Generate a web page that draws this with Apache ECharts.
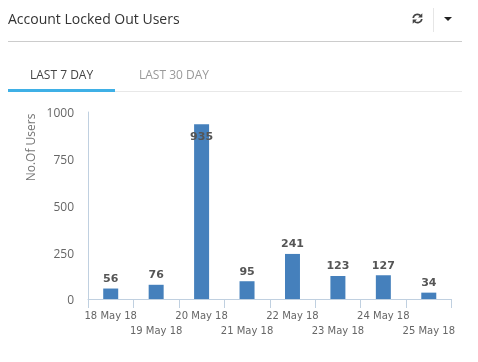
<!DOCTYPE html>
<html>
<head>
<meta charset="utf-8">
<script src="https://cdn.jsdelivr.net/npm/echarts@6/dist/echarts.min.js"></script>
<style>
html,body{margin:0;padding:0;background:#fff;width:478px;height:362px;overflow:hidden;font-family:"Open Sans",sans-serif}
div{position:absolute}
#crq_1{left:0;top:0;width:478px;height:362px}
#title{left:8px;top:9px;font-size:14px;line-height:20px;color:#333}
#head_line{left:8px;top:41px;width:454px;height:1px;background:#ccc}
#divider{left:433px;top:8px;width:1px;height:24px;background:#e6e6e6}
#refresh{left:411px;top:12px}
#caret{left:444px;top:17px;width:0;height:0;border-left:4px solid transparent;border-right:4px solid transparent;border-top:4px solid #222}
#tab1{left:30px;top:66px;font-size:12px;line-height:18px;color:#444}
#tab2{left:139px;top:66px;font-size:12px;line-height:18px;color:#999}
#tab_line{left:8px;top:91px;width:454px;height:1px;background:#e8e8e8}
#tab_on{left:8px;top:89px;width:107px;height:3px;background:#3fb0e6}
</style>
</head>
<body>
<div id="crq_1"></div>
<div id="title">Account Locked Out Users</div>
<div id="head_line"></div>
<div id="divider"></div>
<svg id="refresh" style="position:absolute" width="13" height="13" viewBox="0 0 13 13">
  <path d="M2.2 6a4.3 4.3 0 0 1 7.5-2.2M10.8 7a4.3 4.3 0 0 1-7.5 2.2" fill="none" stroke="#444" stroke-width="1.7"/>
  <path d="M11.3 1.2v4.3h-4.3zM1.7 11.8V7.5h4.3z" fill="#444"/>
</svg>
<div id="caret"></div>
<div id="tab1">LAST 7 DAY</div>
<div id="tab2">LAST 30 DAY</div>
<div id="tab_line"></div>
<div id="tab_on"></div>
<script>
var days=['18 May 18','19 May 18','20 May 18','21 May 18','22 May 18','23 May 18','24 May 18','25 May 18'];
var users=[56,76,935,95,241,123,127,34];
var y_ticks=[0,250,500,750,1000];

var bar_data=[];
users.forEach(function(x){
    // the tall bar has its label inside, near the top
    if(x>y_ticks[y_ticks.length-1]*0.9){
        bar_data.push({value:x,label:{position:'insideTop',distance:7}});
    }else{
        bar_data.push(x);
    }
});

var myChart=echarts.init(document.getElementById('crq_1'),null,{renderer:'canvas'});
myChart.setOption({
    animation:false,
    grid:{left:88,top:112,width:363.5,height:187,containLabel:false},
    xAxis:{
        type:'category',
        data:days,
        axisLine:{lineStyle:{color:'#c0d0e0',width:1}},
        axisTick:{show:true,length:9,alignWithLabel:false,lineStyle:{color:'#c0d0e0'}},
        axisLabel:{
            interval:0,
            margin:10,
            color:'#666',
            fontFamily:'DejaVu Sans',
            fontSize:10,
            lineHeight:15,
            formatter:function(v,i){return i%2==1?'\n'+v:v;}
        }
    },
    yAxis:{
        type:'value',
        min:y_ticks[0],
        max:y_ticks[y_ticks.length-1],
        interval:y_ticks[1]-y_ticks[0],
        name:'No.Of Users',
        nameLocation:'middle',
        nameGap:50,
        nameMoveOverlap:false,
        nameTextStyle:{color:'#777',fontFamily:'Open Sans',fontSize:12,padding:[0,0,0,116]},
        axisLine:{show:true,lineStyle:{color:'#c0d0e0'}},
        axisTick:{show:false},
        splitLine:{show:false},
        axisLabel:{
            margin:14,
            formatter:function(v){return '{y|'+v+'}';},
            rich:{y:{color:'#666',fontFamily:'Open Sans',fontSize:12,padding:[4,0,0,0]}}
        }
    },
    series:[{
        name:'No.Of Users',
        type:'bar',
        data:bar_data,
        barWidth:15,
        itemStyle:{color:'#4580bc'},
        label:{
            show:true,
            position:'top',
            distance:4,
            color:'#555',
            fontFamily:'DejaVu Sans',
            fontWeight:'bold',
            fontSize:11
        }
    }]
});
</script>
</body>
</html>
